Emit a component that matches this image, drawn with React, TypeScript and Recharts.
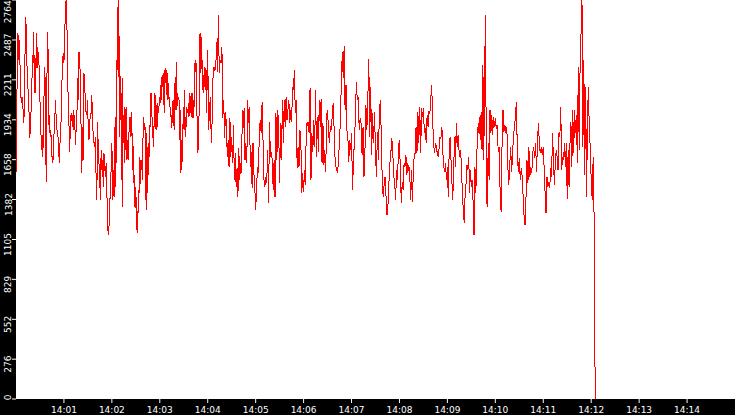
import React from 'react';
import { LineChart, Line, XAxis, YAxis, CartesianGrid } from 'recharts';

// Values per minute (14:00 .. 14:11), spread evenly within each minute
const minute00 = [1563, 1887, 2371, 2533, 2348, 2487, 2337, 2141, 2048, 2094, 2071, 1979, 1910, 2117, 2487, 2649, 2452, 2268, 2187, 2048, 1979, 1806, 1887, 2002, 2117, 2383, 2325, 2545, 2187, 2117, 2198, 2533, 2291, 2441, 2371, 2325, 2164, 1979, 1840, 1725, 1829, 1679, 2071, 2117, 2302, 1898, 1506, 2175, 2545, 2383, 1898, 1967, 1817, 1863, 1748, 1667, 1633, 1702, 1852, 1921, 2071, 1967, 1887, 1840, 1817, 1725, 1633, 1771, 1887, 1944, 2198, 2337, 2395];
const minute01 = [2325, 2522, 2672, 2764, 2614, 2441, 2002, 1910, 1713, 1887, 1979, 1944, 1887, 2002, 1863, 1967, 1760, 1863, 1910, 2221, 2071, 2406, 2337, 2233, 1863, 1563, 1887, 1656, 2256, 2164, 2071, 1979, 1967, 2071, 1875, 1794, 1921, 1967, 1979, 2106, 1921, 1817, 1771, 1748, 1817, 1517, 1379, 1921, 1737, 1633, 1517, 1379, 1725, 1586, 1656, 1471, 1702, 1610, 1540, 1633, 1448, 1217, 1136, 1194, 1390, 1390, 1610];
const minute02 = [1771, 1586, 1379, 1586, 1402, 1887, 1471, 1956, 1633, 2348, 2279, 2718, 2233, 2764, 1817, 2279, 1933, 2071, 1517, 2221, 1333, 1956, 1967, 1633, 2025, 1979, 1725, 2025, 1656, 1725, 1794, 1656, 1887, 1956, 1817, 1956, 1840, 1990, 1586, 1840, 1494, 1586, 1333, 1471, 1321, 1402, 1171, 1298, 1148, 1425, 1286, 1679, 1425, 1656, 1633, 1586, 1656, 1517, 1863, 1956, 1887, 1863, 1887, 1379, 1840, 1309, 1748, 1517, 1771, 1679, 1898, 1887, 2117, 1956, 2117, 1806, 1956, 1748, 1887, 1887, 2117, 2048, 1863, 1956, 2048, 1887, 2025, 2002, 2048];
const minute03 = [2094, 2048, 2175, 2071, 2233, 2164, 2256, 2141, 1979, 2279, 2187, 2291, 2106, 2279, 2071, 2187, 2094, 2071, 2094, 1956, 2014, 1875, 1956, 1910, 2071, 2002, 1863, 2117, 2233, 2002, 2337, 2002, 2117, 2071, 2094, 2071, 1794, 2002, 1563, 1610, 1794, 1644, 1887, 2025, 1863, 2141, 1817, 1956, 1887, 2025, 1979, 2002, 2048, 1956, 2117, 1979, 2071, 2117, 1956, 2117, 1944, 1956, 2071, 2025, 2348, 2268, 2325, 2187, 1771, 1702, 1771, 1887, 2256, 2533, 2256, 2348, 2510, 2141, 2348, 2117, 2141, 2233, 2302, 2141, 2279, 1979, 2210];
const minute04 = [2418, 1863, 2002, 2094, 1771, 1933, 2233, 2302, 2279, 2291, 2475, 2268, 2660, 2256, 2348, 2325, 2441, 1944, 2071, 1806, 1990, 1910, 1679, 1794, 1610, 1944, 1679, 1817, 1633, 1898, 1517, 1702, 1471, 1598, 1402, 1737, 1517, 1633, 1563, 2002, 1875, 2014, 1656, 1771, 1633, 2071, 1910, 2025, 1610, 1713, 1460, 1771, 1563, 1471];
const minute05 = [1309, 1460, 1610, 1563, 1852, 1933, 1840, 2060, 1783, 1517, 1471, 1540, 1494, 1725, 1356, 1921, 1679, 1713, 1656, 1448, 1656, 1402, 1979, 1656, 2002, 1863, 1494, 1910, 1656, 2071, 1771, 2071, 1887, 2094, 1933, 2002, 2071, 1910, 2002, 1921, 2164, 2141, 2279, 1979, 2071, 1598, 1748, 1610, 1863, 1794, 1425, 1563];
const minute06 = [1436, 1586, 1483, 1910, 1898, 1921, 1840, 2152, 1517, 1840, 1713, 1933, 1748, 2141, 1679, 1956, 1713, 2071, 1887, 2078, 1633, 1910, 1621, 1725, 1575, 1967, 2002, 1852, 1771, 1887, 1863, 1956, 2048, 1887, 1679, 1610, 1586, 1568, 1679, 1794, 1944, 2221, 2406, 2221, 2445, 2002, 2175, 1863, 1817, 1644, 1794, 1725];
const minute07 = [1840, 1448, 1633, 1794, 1933, 2198, 2071, 2094, 1863, 1944, 1910, 1690, 1887, 1540, 1725, 2037, 1863, 2083, 2355, 1817, 2164, 1690, 1979, 1771, 1990, 1702, 1540, 1852, 1656, 1979, 2071, 1840, 1517, 1402, 1483, 1540, 1402, 1275, 1344, 1494, 1633, 1702, 1806, 1713, 1552, 1494, 1379, 1586, 1517, 1748];
const minute08 = [1794, 1575, 1356, 1506, 1448, 1633, 1610, 1690, 1552, 1633, 1586, 1598, 1379, 1586, 1367, 1563, 1690, 1702, 1887, 1702, 1990, 1771, 2025, 1702, 2014, 1956, 2014, 1840, 1875, 1771, 1967, 1887, 1990, 1979, 2083, 2175, 1933, 1771, 1702, 1771, 1748, 1702, 1679, 1737, 1817, 1806, 1887, 1713, 1610, 1575, 1633, 1517];
const minute09 = [1610, 1402, 1725, 1817, 1667, 1517, 1379, 1563, 1817, 1610, 1910, 1748, 1829, 1725, 1679, 1725, 1563, 1425, 1286, 1217, 1425, 1494, 1621, 1586, 1679, 1425, 1586, 1471, 1517, 1356, 1136, 1610, 1425, 1644, 1887, 1840, 1956, 1794, 1990, 1725, 2314, 1656, 2314, 2660, 1379, 1333, 1771, 1517, 2002, 1840, 1967, 1829, 1956, 1887];
const minute10 = [1944, 1875, 1887, 1713, 1748, 1425, 1298, 1760, 2002, 1852, 1898, 1840, 1887, 1621, 1483, 1610, 1748, 1575, 1690, 1840, 1875, 1967, 2060, 1690, 1575, 1667, 1517, 1598, 1540, 1402, 1263, 1205, 1402, 1656, 1494, 1748, 1540, 1610, 1563, 1702, 1748, 1667, 1771, 1575, 1794, 1914, 1748, 1702, 1748, 1690];
const minute11 = [1748, 1586, 1425, 1286, 1540, 1471, 1506, 1460, 1598, 1540, 1840, 1679, 1483, 1621, 1725, 1679, 1586, 1840, 1817, 2025, 1586, 1679, 1656, 1771, 1610, 1771, 1386, 1725, 1471, 1771, 1921, 1610, 2002, 1702, 2002, 1840, 1967, 1633, 2302, 1725, 2337, 2533, 2764, 1748, 2348, 1552, 2164, 1402, 1956, 2164, 1840, 1748];
const minuteBlocks = [minute00, minute01, minute02, minute03, minute04, minute05, minute06, minute07, minute08, minute09, minute10, minute11];

// Final seconds (14:12:00 .. 14:12:05), ending with the drop to zero
const tailSeconds = [720, 721.25, 722.5, 723.75, 725];
const tailValues = [1517, 1379, 1679, 1217, 0];

const yTicks = [0, 276, 552, 829, 1105, 1382, 1658, 1934, 2211, 2487, 2764];
const xTickSeconds = [60, 120, 180, 240, 300, 360, 420, 480, 540, 600, 660, 720, 780, 840];
const xTickLabels = ['14:01', '14:02', '14:03', '14:04', '14:05', '14:06', '14:07', '14:08', '14:09', '14:10', '14:11', '14:12', '14:13', '14:14'];

const data: { t: number; v: number }[] = [];
minuteBlocks.forEach((block, k) => {
  block.forEach((v, i) => data.push({ t: k * 60 + (i * 60) / block.length, v }));
});
tailSeconds.forEach((t, i) => data.push({ t, v: tailValues[i] }));

const FONT = 'DejaVu Sans';

const YTick = (props: any) => {
  const { y, payload } = props;
  const label = String(payload.value);
  const half = label.length * 2.7;
  const cy = Math.min(Math.max(y + 5, half + 1), 400 - half);
  return (
    <text
      x={11.5}
      y={cy}
      transform={`rotate(-90 11.5 ${cy})`}
      textAnchor="middle"
      fill="#ffffff"
      fontSize={9}
      fontFamily={FONT}
    >
      {label}
    </text>
  );
};

const XTick = (props: any) => {
  const { x, payload } = props;
  const idx = xTickSeconds.indexOf(payload.value);
  return (
    <text x={x} y={413} textAnchor="middle" fill="#ffffff" fontSize={9} fontFamily={FONT}>
      {idx >= 0 ? xTickLabels[idx] : ''}
    </text>
  );
};

export default function App() {
  return (
    <div style={{ position: 'absolute', left: 0, top: 0, width: 735, height: 415, background: '#000000' }}>
      <LineChart width={735} height={415} data={data} margin={{ top: 0, right: 0, bottom: 0, left: 0 }}>
        <CartesianGrid horizontal={false} vertical={false} fill="#ffffff" fillOpacity={1} stroke="none" />
        <XAxis
          type="number"
          dataKey="t"
          domain={[0, 900]}
          ticks={xTickSeconds}
          interval={0}
          allowDataOverflow
          height={16}
          axisLine={false}
          tickSize={4}
          tickLine={{ stroke: '#ffffff' }}
          tick={<XTick />}
        />
        <YAxis
          type="number"
          domain={[0, 2764]}
          ticks={yTicks}
          interval={0}
          allowDataOverflow
          width={16}
          axisLine={false}
          tickSize={4}
          tickLine={{ stroke: '#ffffff' }}
          tick={<YTick />}
        />
        <Line
          type="linear"
          dataKey="v"
          stroke="#ff0000"
          strokeWidth={1}
          dot={false}
          activeDot={false}
          isAnimationActive={false}
          shapeRendering="crispEdges"
        />
      </LineChart>
    </div>
  );
}
